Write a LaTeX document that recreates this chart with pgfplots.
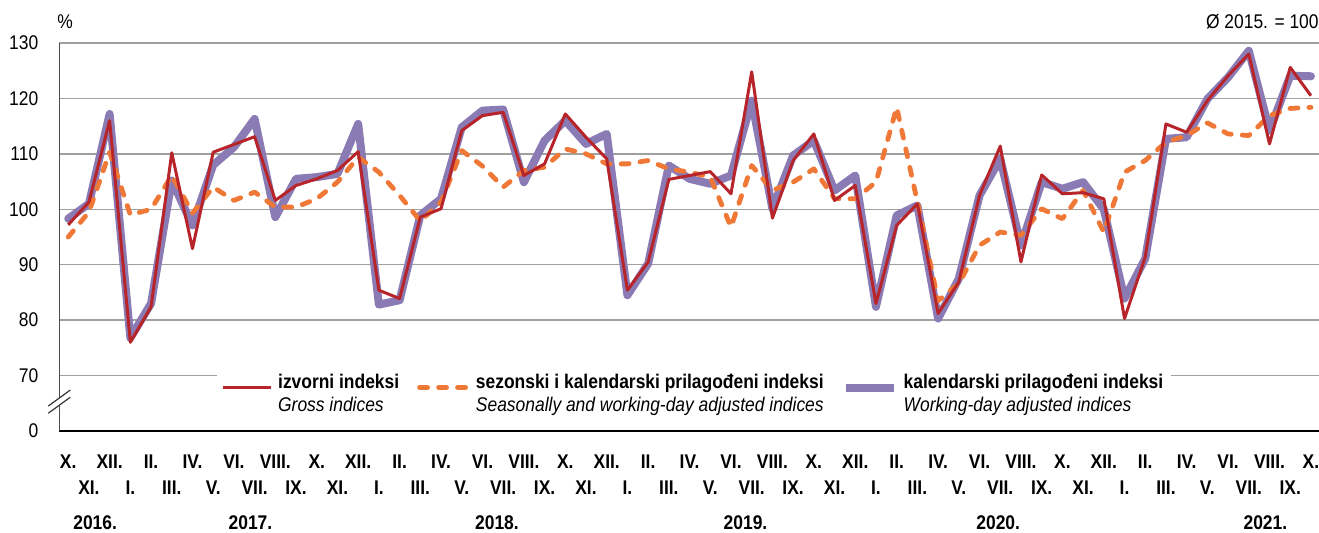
\documentclass[border=0pt]{standalone}
\usepackage{fontspec}
\setmainfont{Liberation Sans}[FakeStretch=0.88]
\usepackage{pgfplots}
\pgfplotsset{compat=1.18}
\usepackage{pgfplotstable}

\definecolor{grossred}{RGB}{183,36,42}
\definecolor{sadjor}{RGB}{239,120,55}
\definecolor{wdpurp}{RGB}{139,123,181}
\definecolor{gridgray}{RGB}{160,160,160}

% i: month index (0 = X.2016)
\pgfplotstableread{
i gross seas wday
0 97.2 95.0 98.3
1 101.3 99.5 101.0
2 116.0 110.3 117.2
3 76.0 99.0 76.8
4 82.4 100.0 83.0
5 110.2 106.1 105.2
6 92.9 99.3 97.1
7 110.3 104.0 108.0
8 111.7 101.6 111.2
9 113.1 103.1 116.3
10 101.6 100.4 98.6
11 104.3 100.4 105.5
12 105.5 101.9 105.8
13 107.0 104.9 106.4
14 110.4 109.4 115.4
15 85.4 106.7 82.8
16 83.9 102.5 83.6
17 98.6 97.9 98.9
18 100.1 101.3 101.9
19 114.2 110.6 114.8
20 116.9 107.8 117.8
21 117.5 104.0 118.0
22 106.1 107.0 104.9
23 108.2 107.6 112.4
24 117.2 110.9 116.0
25 113.0 110.0 111.8
26 109.1 108.2 113.6
27 85.4 108.2 84.5
28 90.5 108.8 90.2
29 105.4 107.3 107.9
30 106.1 106.7 105.5
31 106.8 105.8 104.6
32 102.8 96.8 106.1
33 124.8 107.9 119.6
34 98.4 103.4 100.1
35 108.8 104.9 109.7
36 113.6 107.3 112.4
37 101.6 101.9 103.4
38 104.3 101.9 106.1
39 83.0 104.9 82.4
40 97.1 118.4 98.9
41 101.0 101.3 100.7
42 81.2 83.5 80.3
43 86.9 86.6 87.5
44 102.5 93.5 102.5
45 111.4 95.9 109.1
46 90.5 95.3 93.5
47 106.2 100.1 104.9
48 102.8 98.3 103.7
49 103.0 103.4 104.9
50 101.9 95.9 100.0
51 80.3 106.7 83.9
52 91.4 108.8 91.1
53 115.4 112.1 112.7
54 113.9 113.3 113.0
55 119.6 115.6 119.9
56 124.1 113.6 123.8
57 128.0 113.3 128.6
58 111.8 116.9 114.2
59 125.6 118.2 124.1
60 120.5 118.4 124.0
}\datatable

\begin{document}
\begin{tikzpicture}[font=\fontsize{9.9}{11.5}\selectfont]
\begin{axis}[
  at={(0,0)}, anchor=south west,
  scale only axis,
  width=629.85pt, height=194pt,
  xmin=-0.43, xmax=60.39,
  ymin=60, ymax=130,
  enlargelimits=false,
  clip=false,
  axis x line*=bottom,
  axis y line*=left,
  x axis line style={black, line width=0.6pt},
  y axis line style={black!70, line width=0.5pt},
  major tick length=0pt,
  ytick={60,70,80,90,100,110,120,130},
  yticklabels={0,70,80,90,100,110,120,130},
  yticklabel style={anchor=east, xshift=-7pt},
  ymajorgrids,
  grid style={gridgray, line width=0.7pt},
  xtick={0,2,...,60},
  xticklabels={X.,XII.,II.,IV.,VI.,VIII.,X.,XII.,II.,IV.,VI.,VIII.,X.,XII.,II.,IV.,VI.,VIII.,X.,XII.,II.,IV.,VI.,VIII.,X.,XII.,II.,IV.,VI.,VIII.,X.},
  xticklabel style={anchor=center, yshift=-15.5pt, font=\fontsize{9.9}{11.5}\selectfont\bfseries},
  extra x ticks={1,3,...,59},
  extra x tick labels={XI.,I.,III.,V.,VII.,IX.,XI.,I.,III.,V.,VII.,IX.,XI.,I.,III.,V.,VII.,IX.,XI.,I.,III.,V.,VII.,IX.,XI.,I.,III.,V.,VII.,IX.},
  extra x tick style={xticklabel style={yshift=-13pt}},
  legend columns=3,
  legend cell align=left,
  legend image code/.code={\draw[#1] (0pt,0pt) -- (24pt,0pt);},
  legend style={at={(0.125,0.112)}, anchor=west, fill=white, draw=none,
    inner xsep=2pt, inner ysep=2pt,
    /tikz/every odd column/.append style={column sep=1pt},
    /tikz/every even column/.append style={column sep=7pt}},
]
\addlegendimage{grossred, line width=1.5pt}
\addlegendentry{\begin{tabular}{@{}l@{}}\textbf{izvorni indeksi}\\\textit{Gross indices}\end{tabular}}
\addlegendimage{sadjor, line width=2.4pt, line cap=round, dash pattern=on 4pt off 5.5pt}
\addlegendentry{\begin{tabular}{@{}l@{}}\textbf{sezonski i kalendarski prilagođeni indeksi}\\\textit{Seasonally and working-day adjusted indices}\end{tabular}}
\addlegendimage{wdpurp, line width=4pt, line cap=butt}
\addlegendentry{\begin{tabular}{@{}l@{}}\textbf{kalendarski prilagođeni indeksi}\\\textit{Working-day adjusted indices}\end{tabular}}

\addplot[forget plot, wdpurp, line width=4pt, line join=round, line cap=round] table[x=i, y=wday] {\datatable};
\addplot[forget plot, sadjor, line width=2.4pt, line join=round, line cap=round, dash pattern=on 4pt off 5.5pt] table[x=i, y=seas] {\datatable};
\addplot[forget plot, grossred, line width=1.5pt, line join=round] table[x=i, y=gross] {\datatable};

% year labels
\node[font=\fontsize{9.9}{11.5}\selectfont\bfseries] at ([yshift=-46pt]axis cs:1.3,60) {2016.};
\node[font=\fontsize{9.9}{11.5}\selectfont\bfseries] at ([yshift=-46pt]axis cs:8.8,60) {2017.};
\node[font=\fontsize{9.9}{11.5}\selectfont\bfseries] at ([yshift=-46pt]axis cs:20.7,60) {2018.};
\node[font=\fontsize{9.9}{11.5}\selectfont\bfseries] at ([yshift=-46pt]axis cs:32.7,60) {2019.};
\node[font=\fontsize{9.9}{11.5}\selectfont\bfseries] at ([yshift=-46pt]axis cs:44.9,60) {2020.};
\node[font=\fontsize{9.9}{11.5}\selectfont\bfseries] at ([yshift=-46pt]axis cs:57.8,60) {2021.};

% axis annotations
\node[anchor=center, inner sep=0pt] at ([xshift=2.9pt, yshift=10.5pt]rel axis cs:0,1) {\%};
\node[anchor=east, inner sep=0pt] at ([yshift=10.5pt]rel axis cs:1,1) {Ø 2015. = 100};

% axis break
\coordinate (brk) at (axis cs:-0.43,65.3);
\fill[white] ([xshift=-1pt,yshift=-2pt]brk) rectangle ([xshift=1pt,yshift=2pt]brk);
\draw[black!80, line width=0.6pt] ([xshift=-5.5pt,yshift=-5.8pt]brk) -- ([xshift=5.5pt,yshift=2.2pt]brk);
\draw[black!80, line width=0.6pt] ([xshift=-5.5pt,yshift=-2.2pt]brk) -- ([xshift=5.5pt,yshift=5.8pt]brk);
\end{axis}
\pgfresetboundingbox
\path (-29.65pt,-50.5pt) rectangle (629.85pt,215.5pt);
\end{tikzpicture}
\end{document}
